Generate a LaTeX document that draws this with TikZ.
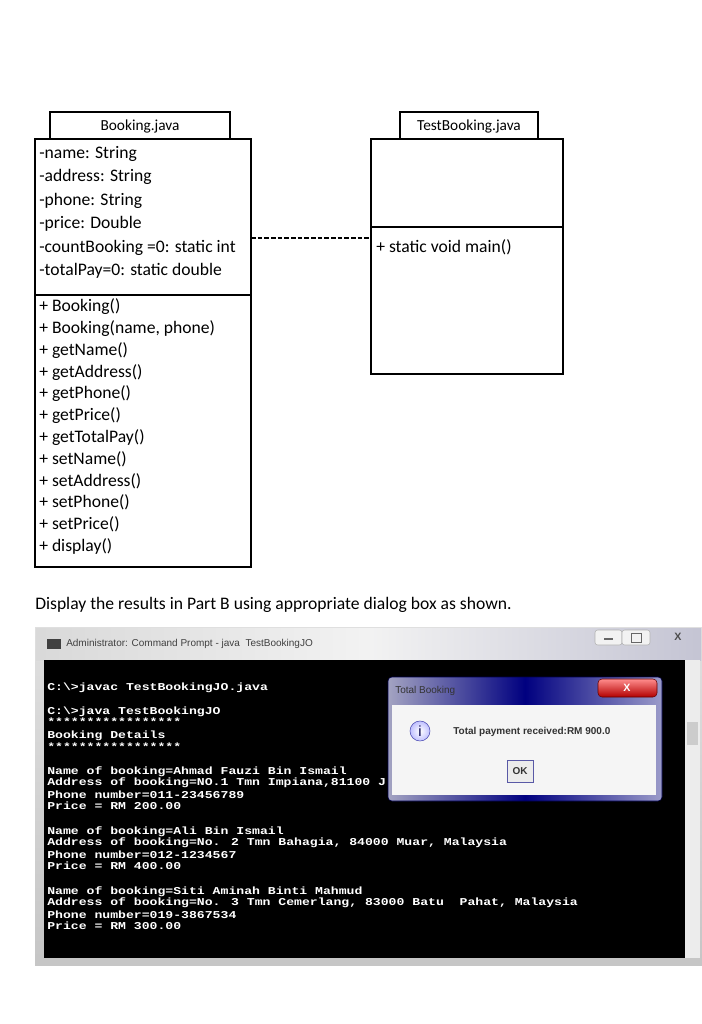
\documentclass[tikz,border=0pt]{standalone}
\usepackage{fontspec}
\setmainfont{Carlito}
\newfontfamily\consolefont{Liberation Mono}
\newfontfamily\uifont{Liberation Sans}
\begin{document}
\begin{tikzpicture}[x=0.75pt,y=-0.75pt,
  umltxt/.style={anchor=west,inner sep=0pt,font=\fontsize{13.2}{15}\selectfont},
  con/.style={anchor=west,inner sep=0pt,text=white,yscale=0.8,transform shape,font=\consolefont\bfseries\fontsize{9.85}{9}\selectfont},
  box/.style={draw,line width=0.8pt}]
\useasboundingbox (0,0) rectangle (702,1024);
\fill[white] (0,0) rectangle (702,1024);
% Booking class
\draw[box] (50,112) rectangle (230,139);
\node[inner sep=0pt,font=\fontsize{11.5}{13}\selectfont] (bt) at (140,126) {Booking.java};
\draw[box] (35,139) rectangle (251,567);
\draw[box] (35,295) -- (251,295);
\coordinate (bR) at (251,238);
\foreach \t [count=\i] in {-name: String,-address: String,-phone: String,-price: Double,-countBooking =0: static int,-totalPay=0: static double}
  \node[umltxt] (a\i) at (39,{154+(\i-1)*23.4}) {\t};
\foreach \t [count=\i] in {+ Booking(),{+ Booking(name, phone)},+ getName(),+ getAddress(),+ getPhone(),+ getPrice(),+ getTotalPay(),+ setName(),+ setAddress(),+ setPhone(),+ setPrice(),+ display()}
  \node[umltxt] (m\i) at (39,{307+(\i-1)*21.75}) {\t};
% TestBooking
\draw[box] (400,112) rectangle (538,139);
\node[inner sep=0pt,font=\fontsize{11.5}{13}\selectfont] (tt) at (469,126) {TestBooking.java};
\draw[box] (371,139) rectangle (563,374);
\draw[box] (371,227) -- (563,227);
\coordinate (tL) at (371,238);
\node[umltxt] (tm) at (376,247) {+ static void main()};
\draw[line width=0.8pt,dash pattern=on 3.5pt off 1.5pt] (bR) -- (tL);
% sentence
\node[umltxt] (s) at (35,605) {Display the results in Part B using appropriate dialog box as shown.};
% console window
\shade[top color=gray!25,bottom color=gray!45] (35,627) rectangle (702,965);
\shade[left color=gray!30,right color=blue!15!gray!40,middle color=white!90!gray] (36,628) rectangle (701,660);
\fill[black] (44,660) rectangle (685,958);
\fill[gray!15] (685,660) rectangle (700,958);
\fill[gray!40] (687,722) rectangle (698,745);
\node[anchor=west,inner sep=0pt,font=\uifont\fontsize{7.5}{9}\selectfont,text=black!75] (wt) at (66,644) {Administrator: Command Prompt - java\ \ TestBookingJO};
\fill[black!75] (47,639) rectangle (61,649);
\draw[gray!60,fill=gray!10,rounded corners=2pt] (595,630) rectangle (622,645);
\draw[gray!60,fill=gray!10,rounded corners=2pt] (622,630) rectangle (650,645);
\node[font=\uifont\bfseries\fontsize{8}{9}\selectfont,text=black!70] (wx) at (678,637) {X};
\draw[black!60,line width=1pt] (604,639) -- (613,639);
\draw[black!60] (631,633) rectangle (641,642);
% console text
\node[con] (c1) at (47,688) {C:\textbackslash>javac TestBookingJO.java};
\node[con] (c2) at (47,712) {C:\textbackslash>java TestBookingJO};
\node[con] (c3) at (47,722) {*****************};
\node[con] (c4) at (47,736) {Booking Details};
\node[con] (c5) at (47,747) {*****************};
\node[con] (c6) at (47,772) {Name of booking=Ahmad Fauzi Bin Ismail};
\node[con] (c7) at (47,783) {Address of booking=NO.1 Tmn Impiana,81100 J};
\node[con] (c8) at (47,795) {Phone number=011-23456789};
\node[con] (c9) at (47,806) {Price = RM 200.00};
\node[con] (c10) at (47,832) {Name of booking=Ali Bin Ismail};
\node[con] (c11) at (47,843) {Address of booking=No. 2 Tmn Bahagia, 84000 Muar, Malaysia};
\node[con] (c12) at (47,855) {Phone number=012-1234567};
\node[con] (c13) at (47,866) {Price = RM 400.00};
\node[con] (c14) at (47,892) {Name of booking=Siti Aminah Binti Mahmud};
\node[con] (c15) at (47,903) {Address of booking=No. 3 Tmn Cemerlang, 83000 Batu\ \ Pahat, Malaysia};
\node[con] (c16) at (47,915) {Phone number=019-3867534};
\node[con] (c17) at (47,926) {Price = RM 300.00};
% dialog
\shade[left color=blue!20!gray!60,right color=blue!30!gray!60,middle color=blue!50!black,rounded corners=3pt,draw=blue!30!black] (388,677) rectangle (662,801);
\fill[gray!8] (392,705) rectangle (656,795);
\node[anchor=west,inner sep=0pt,font=\uifont\fontsize{7.5}{9}\selectfont,text=black!80] (dt) at (395,691) {Total Booking};
\shade[top color=red!45,bottom color=red!70!black,rounded corners=3pt,draw=red!40!black] (598,679) rectangle (657,697);
\node[font=\uifont\bfseries\fontsize{8}{9}\selectfont,text=white] (dx) at (627,688) {X};
\shade[inner color=white,outer color=blue!25,draw=blue!40!gray] (420,731) circle (10);
\node[font=\uifont\fontsize{11}{12}\selectfont,text=blue!30!black] (di) at (420,731) {i};
\node[anchor=west,inner sep=0pt,font=\uifont\bfseries\fontsize{7.5}{9}\selectfont,text=black!80] (dm) at (453,732) {Total payment received:RM 900.0};
\draw[fill=gray!15,draw=gray!70!blue] (507,760) rectangle (533,782);
\node[font=\uifont\bfseries\fontsize{7.5}{9}\selectfont,text=black!80] (ok) at (520,771) {OK};
\end{tikzpicture}
\end{document}
